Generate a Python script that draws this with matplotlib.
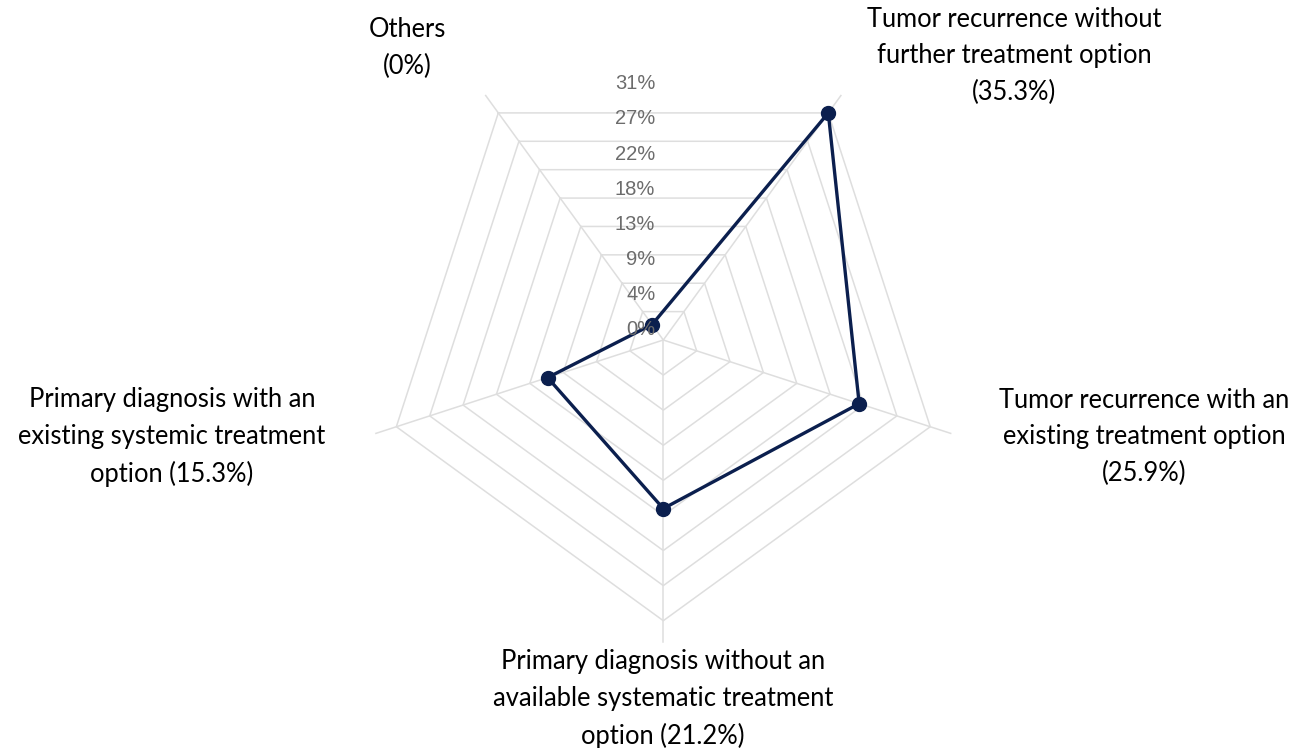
import numpy as np
import matplotlib.pyplot as plt
from matplotlib.transforms import offset_copy

# Data (clockwise, starting from the upper-left spoke)
categories = ['Others\n(0%)',
              'Tumor recurrence without\nfurther treatment option\n(35.3%)',
              'Tumor recurrence with an\nexisting treatment option\n(25.9%)',
              'Primary diagnosis without an\navailable systematic treatment\noption (21.2%)',
              'Primary diagnosis with an\nexisting systemic treatment\noption (15.3%)']
values = [2.4, 35.3, 25.9, 21.2, 15.3]
tick_labels = ['0%', '4%', '9%', '13%', '18%', '22%', '27%', '31%']
tick_step = 35.3 / 8
n_rings = 8

# Layout / style
W, H, DPI = 1309, 748, 100
navy = '#0b1f4e'
grid_col = '#dedede'
spoke_max = 38.0
rmax = 40.0
cx, cy = 663.3, H - 340.0          # chart centre in pixels
px_per = 280.7 / (n_rings * tick_step)
label_xy = [(407, 48), (1014, 56), (1144, 437), (663, 699), (172, 437)]

fig = plt.figure(figsize=(W / DPI, H / DPI), dpi=DPI)
half = rmax * px_per
ax = fig.add_axes([(cx - half) / W, (cy - half) / H, 2 * half / W, 2 * half / H],
                  projection='polar')
ax.set_theta_offset(np.deg2rad(126))
ax.set_theta_direction(-1)
ax.set_ylim(0, rmax)
ax.axis('off')

angles = np.linspace(0, 2 * np.pi, len(values), endpoint=False)
closed = np.append(angles, angles[0])

# pentagon grid
for k in range(1, n_rings + 1):
    ax.plot(closed, np.full(len(closed), k * tick_step), color=grid_col, lw=1.1, zorder=1)
for a in angles:
    ax.plot([a, a], [0, spoke_max], color=grid_col, lw=1.1, zorder=1)

# data
ax.plot(closed, np.append(values, values[0]), color=navy, lw=2.4, zorder=3)
ax.plot(angles, values, 'o', color=navy, ms=10, zorder=4)

# radial tick labels, straight up from the centre
up = np.deg2rad(126 - 90)
lab_tr = offset_copy(ax.transData, fig=fig, x=-8, y=10.5, units='dots')
for k, lab in enumerate(tick_labels):
    ax.text(up, k * tick_step, lab, transform=lab_tr, ha='right', va='center',
            color='#6c6c6c', fontsize=14.5, family='Liberation Sans', zorder=5)

# category labels
for (x, y), lab in zip(label_xy, categories):
    fig.text(x / W, 1 - y / H, lab, ha='center', va='center', fontsize=18.4,
             family='Lato', linespacing=1.57, color='black')

fig.savefig('out.png', dpi=DPI)
